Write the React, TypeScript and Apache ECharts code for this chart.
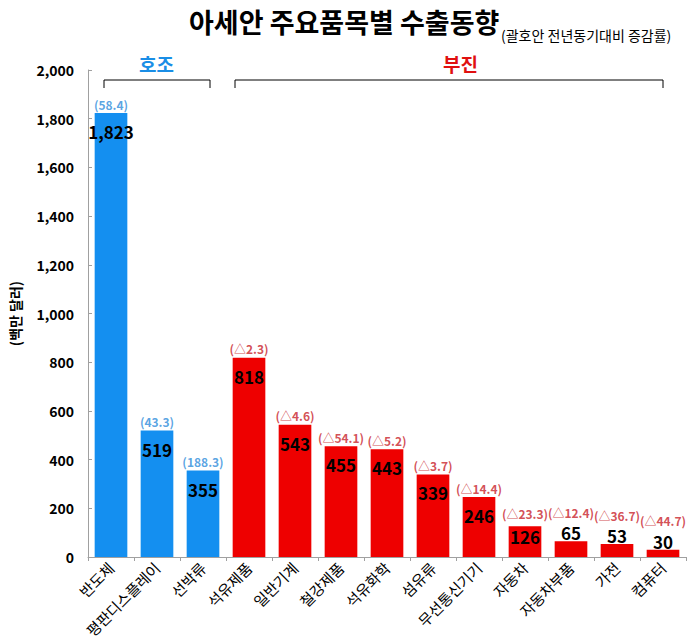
import React, { useEffect, useRef } from "react";
import * as echarts from "echarts";

const categories = ["반도체", "평판디스플레이", "선박류", "석유제품", "일반기계", "철강제품", "석유화학", "섬유류", "무선통신기기", "자동차", "자동차부품", "가전", "컴퓨터"];
const values = [1823, 519, 355, 818, 543, 455, 443, 339, 246, 126, 65, 53, 30];
const changes = ["(58.4)", "(43.3)", "(188.3)", "(△2.3)", "(△4.6)", "(△54.1)", "(△5.2)", "(△3.7)", "(△14.4)", "(△23.3)", "(△12.4)", "(△36.7)", "(△44.7)"];
const goodCount = 3;
const yTicks = [0, 200, 400, 600, 800, 1000, 1200, 1400, 1600, 1800, 2000];

const BLUE = "#148ff0";
const RED = "#ee0000";
const FONT = "'Noto Sans CJK KR', 'Noto Sans', sans-serif";

export default function App() {
  const ref = useRef<HTMLDivElement>(null);
  useEffect(() => {
    if (!ref.current) return;
    const chart = echarts.init(ref.current, undefined, { renderer: "svg" });
    const smallThreshold = 100;
    const barData = values.map((v, i) => {
      const small = v < smallThreshold;
      return {
        value: v,
        itemStyle: { color: i < goodCount ? BLUE : RED },
        label: {
          show: true,
          position: small ? "top" : "insideTop",
          distance: small ? 0 : v < 150 ? 2 : 10,
          formatter: (p: any) => p.value.toLocaleString("en-US"),
          color: "#000",
          fontWeight: "bold",
          fontSize: 17,
          fontFamily: FONT,
        },
      };
    });
    const changeData = values.map((v, i) => ({
      value: v,
      label: {
        show: true,
        position: "top",
        distance: v < smallThreshold ? 22 : v < 150 ? 6 : 2,
        formatter: changes[i],
        color: i < goodCount ? "#2f8ddb" : "#c8222a",
        fontSize: 12,
        fontWeight: "bold",
        fontFamily: FONT,
        lineHeight: 14,
      },
    }));
    chart.setOption({
      animation: false,
      title: [
        {
          text: "아세안 주요품목별 수출동향",
          left: 184,
          top: 3,
          textStyle: { fontSize: 27, fontWeight: "bold", color: "#000", fontFamily: FONT },
        },
        {
          text: "(괄호안 전년동기대비 증감률)",
          left: 496,
          top: 23,
          textStyle: { fontSize: 14, fontWeight: "normal", color: "#000", fontFamily: FONT },
        },
      ],
      grid: { left: 87, right: 9, top: 70, bottom: 85, containLabel: false },
      xAxis: {
        type: "category",
        data: categories,
        axisLine: { lineStyle: { color: "#a0a0a0" } },
        axisTick: { show: true, length: 4, lineStyle: { color: "#a0a0a0" } },
        axisLabel: {
          interval: 0,
          rotate: 45,
          color: "#000",
          fontSize: 15,
          fontFamily: FONT,
          margin: 8,
        },
      },
      yAxis: {
        type: "value",
        min: 0,
        max: 2000,
        interval: 200,
        name: "(백만 달러)",
        nameLocation: "middle",
        nameRotate: 90,
        nameGap: 66,
        nameTextStyle: { fontSize: 14, fontWeight: "bold", color: "#000", fontFamily: FONT },
        splitLine: { show: false },
        axisLine: { show: true, lineStyle: { color: "#a0a0a0" } },
        axisTick: { show: true, inside: true, length: 4, lineStyle: { color: "#a0a0a0" } },
        axisLabel: {
          color: "#000",
          fontSize: 14,
          fontWeight: "bold",
          fontFamily: FONT,
          margin: 14,
          formatter: (v: number) => (yTicks.includes(v) ? v.toLocaleString("en-US") : ""),
        },
      },
      series: [
        {
          type: "bar",
          data: barData,
          barWidth: "71%",
        },
        {
          type: "scatter",
          data: changeData,
          symbolSize: 0,
          silent: true,
          z: 5,
        },
      ],
      graphic: [
        { type: "text", left: 139, top: 54, style: { text: "호조", fill: "#1a8ee6", font: `bold 19px ${FONT}` } },
        { type: "text", left: 443, top: 54, style: { text: "부진", fill: "#e01010", font: `bold 19px ${FONT}` } },
        {
          type: "polyline",
          shape: { points: [[104, 88], [104, 80], [210, 80], [210, 88]] },
          style: { stroke: "#000", fill: "none", lineWidth: 1 },
        },
        {
          type: "polyline",
          shape: { points: [[235, 88], [235, 80], [663, 80], [663, 88]] },
          style: { stroke: "#000", fill: "none", lineWidth: 1 },
        },
      ],
    });
    return () => chart.dispose();
  }, []);
  return <div ref={ref} style={{ width: 695, height: 642, position: "absolute", left: 0, top: 0, background: "#fff" }} />;
}
